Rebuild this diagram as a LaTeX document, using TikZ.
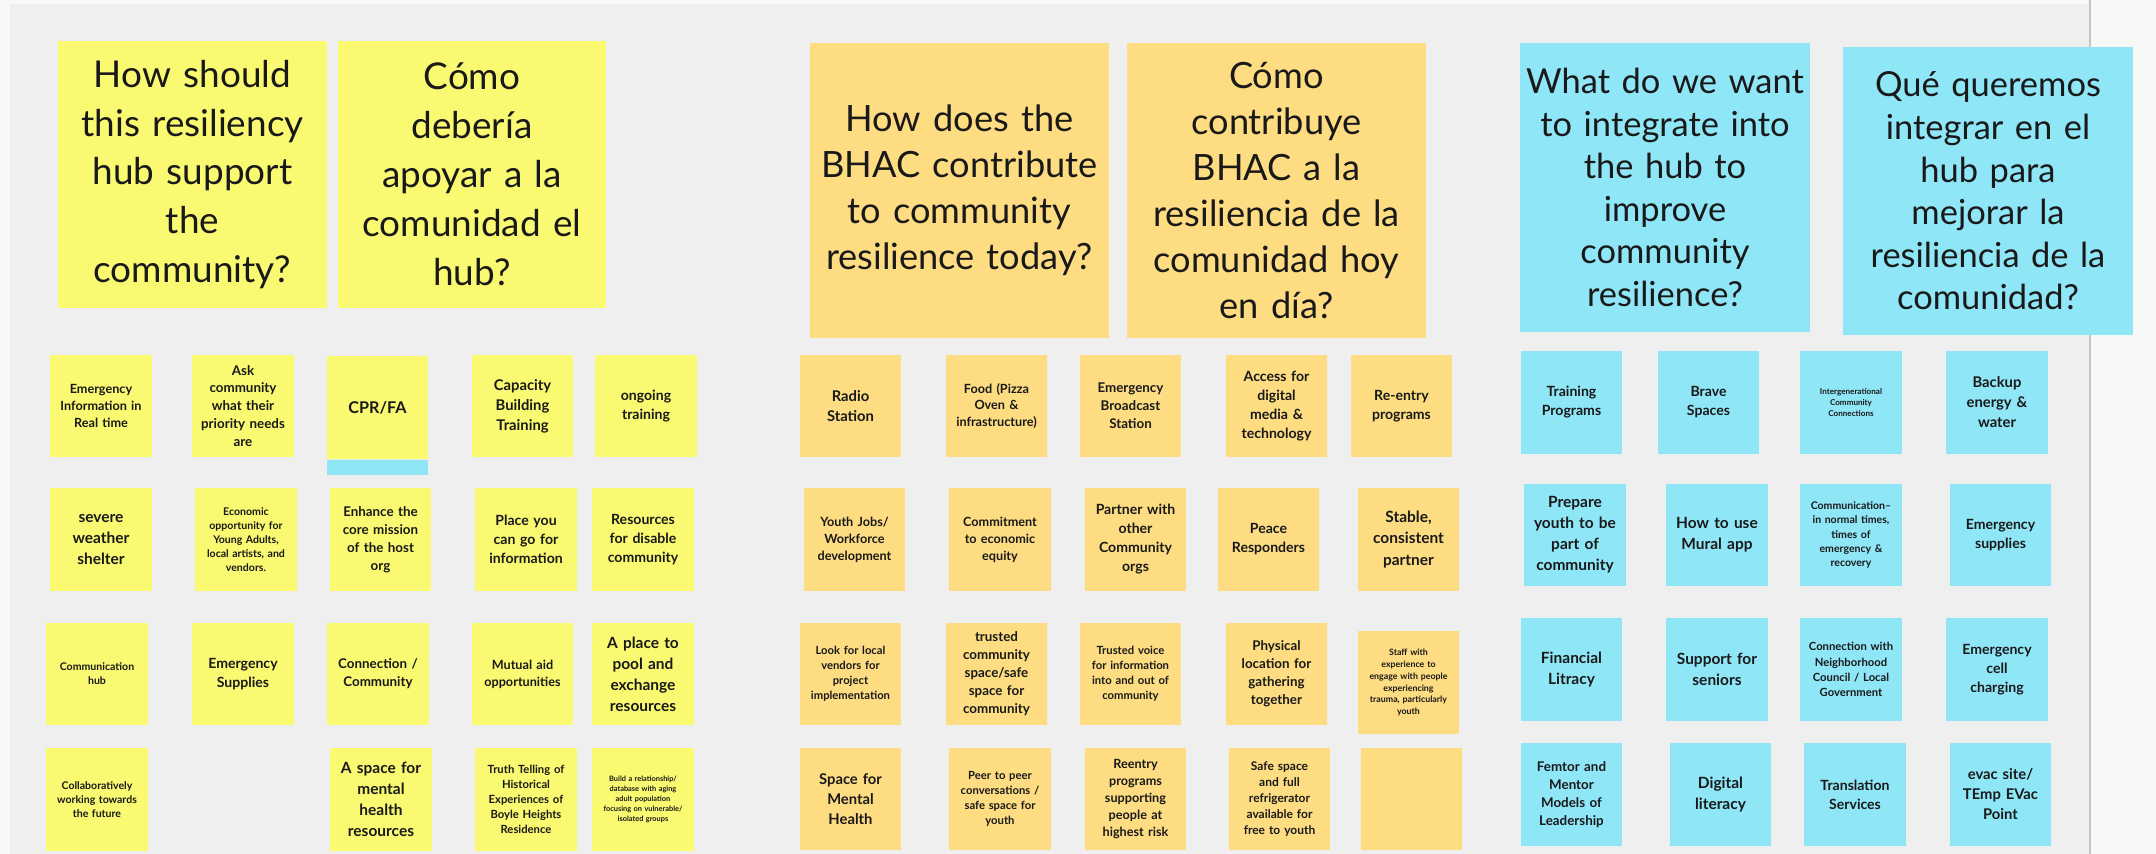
\documentclass[tikz,border=0pt]{standalone}
\usepackage{fontspec}
\setmainfont{Lato}
\usepackage{tikz}
\usetikzlibrary{positioning}
\definecolor{boardgray}{RGB}{239, 239, 239}
\definecolor{pagewhite}{RGB}{248, 248, 248}
\definecolor{edgegray}{RGB}{196, 196, 196}
\definecolor{noteyellow}{RGB}{250, 249, 114}
\definecolor{noteorange}{RGB}{253, 220, 130}
\definecolor{noteblue}{RGB}{143, 230, 247}
\definecolor{ink}{RGB}{25, 25, 25}

\tikzset{
  head/.style={inner sep=0pt, align=center, text=ink},
  hsz/.style 2 args={font=\fontsize{#1}{#2}\selectfont},
  note/.style={minimum width=1.01cm, minimum height=1.02cm, inner sep=0pt, text width=0.97cm, align=center, text=ink},
  sz/.style 2 args={font=\fontsize{#1}{#2}\selectfont\bfseries},
  ynote/.style={note, fill=noteyellow},
  onote/.style={note, fill=noteorange},
  bnote/.style={note, fill=noteblue},
}

\begin{document}
\begin{tikzpicture}[x=0.01cm, y=-0.01cm]
  \useasboundingbox (0, 0) rectangle (2156, 854);

  % Board
  \fill[pagewhite] (0, 0) rectangle (2156, 854);
  \fill[boardgray] (10, 4) rectangle (2090, 854);
  \draw[edgegray, line width=0.5pt] (2090, 0) -- (2090, 854);

  % Headers
  \node[head, hsz={10.5}{13.9}, fill=noteyellow, minimum width=2.69cm, minimum height=2.67cm, text width=2.6cm] (hy1) at (192.5, 174.5) {How should\\this resiliency\\hub support\\the\\community?};
  \node[head, hsz={10.5}{13.9}, fill=noteyellow, minimum width=2.68cm, minimum height=2.67cm, text width=2.6cm] (hy2) at (472, 174.5) {Cómo\\debería\\apoyar a la\\comunidad el\\hub?};
  \node[head, hsz={10.3}{13.1}, fill=noteorange, minimum width=2.99cm, minimum height=2.95cm, text width=2.9cm] (ho1) at (959.5, 190.5) {How does the\\BHAC contribute\\to community\\resilience today?};
  \node[head, hsz={10.3}{13.1}, fill=noteorange, minimum width=2.99cm, minimum height=2.95cm, text width=2.9cm] (ho2) at (1276.5, 190.5) {Cómo\\contribuye\\BHAC a la\\resiliencia de la\\comunidad hoy\\en día?};
  \node[head, hsz={9.8}{12.1}, fill=noteblue, minimum width=2.90cm, minimum height=2.89cm, text width=2.88cm] (hb1) at (1665, 187.5) {What do we want\\to integrate into\\the hub to\\improve\\community\\resilience?};
  \node[head, hsz={9.8}{12.1}, fill=noteblue, minimum width=2.90cm, minimum height=2.88cm, text width=2.88cm] (hb2) at (1988, 191) {Qué queremos\\integrar en el\\hub para\\mejorar la\\resiliencia de la\\comunidad?};

  % Yellow notes
  \node[ynote, sz={3.6}{4.8}] (y11) at (101, 406) {Emergency\\Information in\\Real time};
  \node[ynote, sz={3.8}{5.1}] (y12) at (243, 406) {Ask\\community\\what their\\priority needs\\are};
  \node[ynote, sz={4.6}{5.5}] (y13) at (377.5, 407.5) {CPR/FA};
  \node[fill=noteblue, minimum width=1.01cm, minimum height=0.15cm, inner sep=0pt, below=0pt of y13] (y13tab) {};
  \node[ynote, sz={4.2}{5.7}] (y14) at (522.5, 406) {Capacity\\Building\\Training};
  \node[ynote, sz={4.0}{5.4}] (y15) at (646, 406) {ongoing\\training};

  \node[ynote, sz={4.4}{6.0}] (y21) at (101, 539.5) {severe\\weather\\shelter};
  \node[ynote, sz={3.0}{4.0}] (y22) at (246, 539.5) {Economic\\opportunity for\\Young Adults,\\local artists, and\\vendors.};
  \node[ynote, sz={3.8}{5.1}] (y23) at (380.5, 539.5) {Enhance the\\core mission\\of the host\\org};
  \node[ynote, sz={4.0}{5.4}] (y24) at (526, 539.5) {Place you\\can go for\\information};
  \node[ynote, sz={4.0}{5.4}] (y25) at (643, 539.5) {Resources\\for disable\\community};

  \node[ynote, sz={3.0}{4.0}] (y31) at (97, 674) {Communication\\hub};
  \node[ynote, sz={4.0}{5.4}] (y32) at (243, 674) {Emergency\\Supplies};
  \node[ynote, sz={3.8}{5.1}] (y33) at (378, 674) {Connection /\\Community};
  \node[ynote, sz={3.6}{4.8}] (y34) at (522.5, 674) {Mutual aid\\opportunities};
  \node[ynote, sz={4.4}{6.0}] (y35) at (643, 674) {A place to\\pool and\\exchange\\resources};

  \node[ynote, sz={3.0}{4.0}] (y41) at (97, 799.5) {Collaboratively\\working towards\\the future};
  \node[ynote, sz={4.4}{6.0}] (y43) at (381, 799.5) {A space for\\mental\\health\\resources};
  \node[ynote, sz={3.2}{4.3}] (y44) at (526, 799.5) {Truth Telling of\\Historical\\Experiences of\\Boyle Heights\\Residence};
  \node[ynote, sz={2.1}{2.85}] (y45) at (643, 799.5) {Build a relationship/\\database with aging\\adult population\\focusing on vulnerable/\\isolated groups};

  % Orange notes
  \node[onote, sz={4.2}{5.7}] (o11) at (850.5, 406) {Radio\\Station};
  \node[onote, sz={3.6}{4.8}] (o12) at (996.5, 406) {Food (Pizza\\Oven \&\\infrastructure)};
  \node[onote, sz={3.8}{5.1}] (o13) at (1130.5, 406) {Emergency\\Broadcast\\Station};
  \node[onote, sz={4.0}{5.4}] (o14) at (1276.5, 406) {Access for\\digital\\media \&\\technology};
  \node[onote, sz={4.0}{5.4}] (o15) at (1401.5, 406) {Re-entry\\programs};

  \node[onote, sz={3.6}{4.8}] (o21) at (854.5, 539.5) {Youth Jobs/\\Workforce\\development};
  \node[onote, sz={3.6}{4.8}] (o22) at (1000, 539.5) {Commitment\\to economic\\equity};
  \node[onote, sz={4.0}{5.4}] (o23) at (1135.5, 539.5) {Partner with\\other\\Community\\orgs};
  \node[onote, sz={4.0}{5.4}] (o24) at (1268.5, 539.5) {Peace\\Responders};
  \node[onote, sz={4.4}{6.0}] (o25) at (1408.5, 539.5) {Stable,\\consistent\\partner};

  \node[onote, sz={3.2}{4.3}] (o31) at (850.5, 674) {Look for local\\vendors for\\project\\implementation};
  \node[onote, sz={3.8}{5.1}] (o32) at (996.5, 674) {trusted\\community\\space/safe\\space for\\community};
  \node[onote, sz={3.2}{4.3}] (o33) at (1130.5, 674) {Trusted voice\\for information\\into and out of\\community};
  \node[onote, sz={3.8}{5.1}] (o34) at (1276.5, 674) {Physical\\location for\\gathering\\together};
  \node[onote, sz={2.5}{3.4}] (o35) at (1408.5, 682.5) {Staff with\\experience to\\engage with people\\experiencing\\trauma, particularly\\youth};

  \node[onote, sz={4.2}{5.7}] (o41) at (850.5, 799) {Space for\\Mental\\Health};
  \node[onote, sz={3.2}{4.3}] (o42) at (1000, 799) {Peer to peer\\conversations /\\safe space for\\youth};
  \node[onote, sz={3.6}{4.8}] (o43) at (1135.5, 799) {Reentry\\programs\\supporting\\people at\\highest risk};
  \node[onote, sz={3.4}{4.55}] (o44) at (1279.5, 799) {Safe space\\and full\\refrigerator\\available for\\free to youth};
  \node[onote] (o45) at (1411.5, 799) {};

  % Blue notes
  \node[bnote, sz={4.0}{5.4}] (b11) at (1571.5, 402.5) {Training\\Programs};
  \node[bnote, sz={4.0}{5.4}] (b12) at (1708.5, 402.5) {Brave\\Spaces};
  \node[bnote, sz={2.3}{3.1}] (b13) at (1851, 402.5) {Intergenerational\\Community\\Connections};
  \node[bnote, sz={4.2}{5.7}] (b14) at (1997, 402.5) {Backup\\energy \&\\water};

  \node[bnote, sz={4.4}{6.0}] (b21) at (1575, 535) {Prepare\\youth to be\\part of\\community};
  \node[bnote, sz={4.4}{6.0}] (b22) at (1717, 535) {How to use\\Mural app};
  \node[bnote, sz={3.0}{4.0}] (b23) at (1851, 535) {Communication--\\in normal times,\\times of\\emergency \&\\recovery};
  \node[bnote, sz={4.0}{5.4}] (b24) at (2000.5, 535) {Emergency\\supplies};

  \node[bnote, sz={4.4}{6.0}] (b31) at (1571.5, 669.5) {Financial\\Litracy};
  \node[bnote, sz={4.4}{6.0}] (b32) at (1717, 669.5) {Support for\\seniors};
  \node[bnote, sz={3.2}{4.3}] (b33) at (1851, 669.5) {Connection with\\Neighborhood\\Council / Local\\Government};
  \node[bnote, sz={4.0}{5.4}] (b34) at (1997, 669.5) {Emergency\\cell\\charging};

  \node[bnote, sz={3.8}{5.1}] (b41) at (1571.5, 794.5) {Femtor and\\Mentor\\Models of\\Leadership};
  \node[bnote, sz={4.4}{6.0}] (b42) at (1720.5, 794.5) {Digital\\literacy};
  \node[bnote, sz={4.0}{5.4}] (b43) at (1855, 794.5) {Translation\\Services};
  \node[bnote, sz={4.2}{5.7}] (b44) at (2000.5, 794.5) {evac site/\\TEmp EVac\\Point};
\end{tikzpicture}
\end{document}
